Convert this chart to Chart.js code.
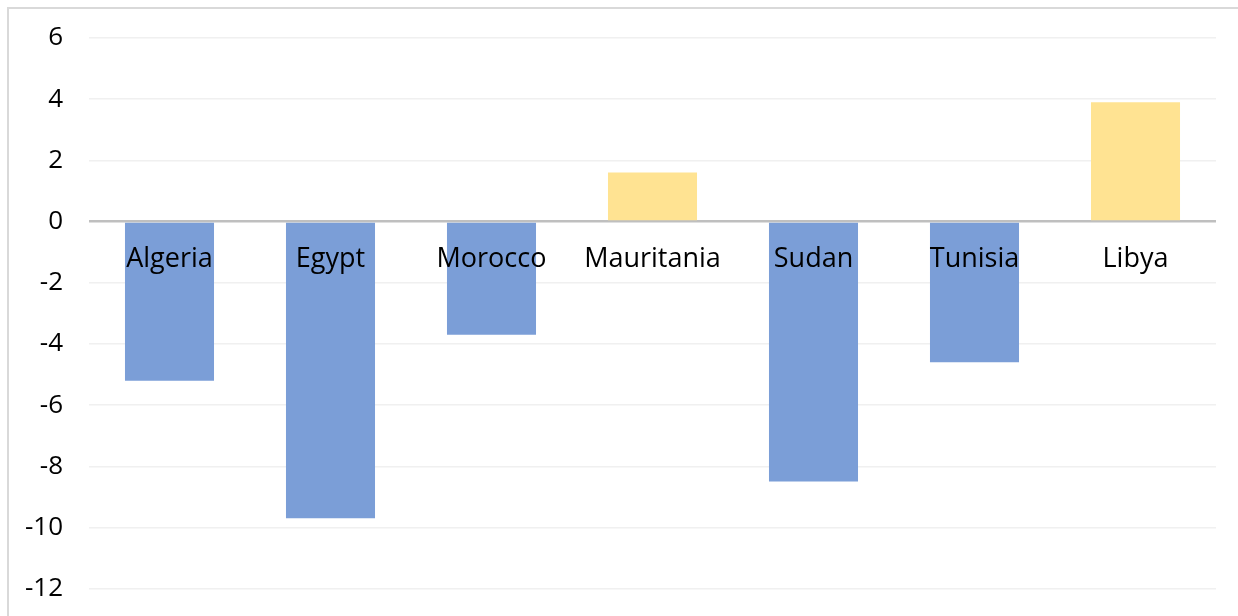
<!DOCTYPE html>
<html>
<head>
<meta charset="utf-8">
<script src="https://cdn.jsdelivr.net/npm/chart.js@4"></script>
<style>
  html, body { margin: 0; padding: 0; background: #fff; overflow: hidden; }
  #box { position: absolute; left: 7px; top: 7px; width: 1260px; height: 640px; border: 2px solid #d9d9d9; }
  #wrap { position: absolute; left: 0; top: 0; width: 1238px; height: 616px; }
</style>
</head>
<body>
<div id="box"></div>
<div id="wrap"><canvas id="myChart"></canvas></div>
<script>
  // countries and values
  const countries = ['Algeria', 'Egypt', 'Morocco', 'Mauritania', 'Sudan', 'Tunisia', 'Libya'];
  const values = [-5.2, -9.7, -3.7, 1.6, -8.5, -4.6, 3.9];
  const yMin = -12;
  const yMax = 6;

  const blue = '#7b9ed7';
  const yellow = '#ffe392';

  // category names sit just under the zero line, on top of the bars
  const labelsOnTop = {
    id: 'labelsOnTop',
    afterDatasetsDraw(chart) {
      let c = chart.ctx;
      let x = chart.scales.x;
      let y0 = chart.scales.y.getPixelForValue(0);
      c.save();
      c.font = '27px "Open Sans"';
      c.fillStyle = '#000';
      c.textAlign = 'center';
      c.textBaseline = 'middle';
      chart.data.labels.forEach((lab, i) => {
        c.fillText(lab, x.getPixelForValue(i), y0 + 38);
      });
      c.restore();
    }
  };

  let ctx = document.getElementById('myChart').getContext('2d');
  let chart = new Chart(ctx, {
    type: 'bar',
    data: {
      labels: countries,
      datasets: [{
        data: values,
        backgroundColor: values.map(v => v < 0 ? blue : yellow),
        barPercentage: 0.553,
        categoryPercentage: 1
      }]
    },
    options: {
      responsive: true,
      maintainAspectRatio: false,
      animation: false,
      layout: { padding: { top: 38, bottom: 27, left: 0, right: 22 } },
      plugins: { legend: { display: false }, tooltip: { enabled: false } },
      scales: {
        x: { display: false },
        y: {
          min: yMin,
          max: yMax,
          afterFit: s => { s.width = 89; },
          grid: {
            color: c => c.tick && c.tick.value === 0 ? '#bfbfbf' : '#f0f0f0',
            lineWidth: c => c.tick && c.tick.value === 0 ? 2.5 : 1.5,
            drawTicks: false
          },
          border: { display: false },
          ticks: {
            stepSize: 2,
            padding: 26,
            color: '#000',
            // tiny lineHeight so the labels do not push the plot area inward
            font: { family: 'Open Sans', size: 26, lineHeight: 0.1 }
          }
        }
      }
    },
    plugins: [labelsOnTop]
  });
</script>
</body>
</html>
